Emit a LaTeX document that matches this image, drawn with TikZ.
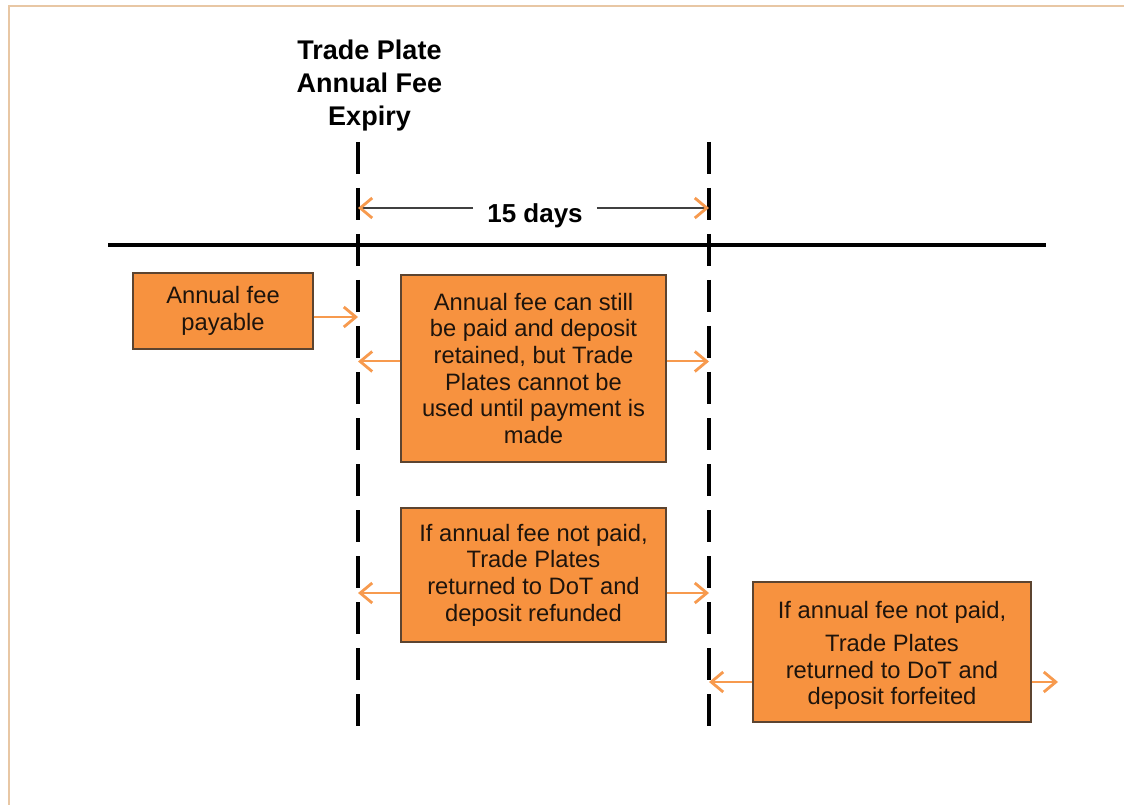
\documentclass[tikz,border=0pt]{standalone}
\usepackage{fontspec}
\setmainfont{Liberation Sans}
\usetikzlibrary{arrows.meta}
\definecolor{boxfill}{HTML}{F7923F}
\definecolor{boxedge}{HTML}{5C4430}
\definecolor{arrorange}{HTML}{F79A4E}
\definecolor{frametan}{HTML}{E8C7A4}
\definecolor{txt}{HTML}{1E140C}
\begin{document}
\begin{tikzpicture}[x=0.75pt,y=-0.75pt,
  fbox/.style={draw=boxedge, line width=1.1pt, fill=boxfill, text=txt, align=center,
    font=\fontsize{17.8}{20}\selectfont, inner sep=0pt},
  oarr/.style={draw=arrorange, line width=1.5pt,
    -{Straight Barb[length=9pt,width=15pt,line width=2.1pt]}},
  darr/.style={draw=black!75, line width=1pt,
    -{Straight Barb[length=9pt,width=15pt,line width=2.1pt,color=arrorange]}},
  vdash/.style={line width=2.3pt, dash pattern=on 24pt off 10.5pt},
]
\useasboundingbox (0,0) rectangle (1124,805);
\fill[white] (0,0) rectangle (1124,805);
\draw[frametan, line width=1.8pt] (9,805) -- (9,6) -- (1124,6);

% time line and markers
\coordinate (hl) at (108,245);
\coordinate (hr) at (1046,245);
\coordinate (L1t) at (358,142);
\coordinate (L1b) at (358,728);
\coordinate (L2t) at (709,142);
\coordinate (L2b) at (709,728);
\draw[line width=2.3pt] (hl) -- (hr);
\draw[vdash] (L1t) -- (L1b);
\draw[vdash] (L2t) -- (L2b);

% title
\node[anchor=north, inner sep=0pt, align=center,
  font=\fontsize{20.25}{24.75}\selectfont\bfseries] (title) at (369.5,39.5)
  {Trade Plate\\Annual Fee\\Expiry};

% 15 days
\node[font=\fontsize{19.5}{22}\selectfont\bfseries, inner sep=0pt] (days) at (535,216) {15 days};
\coordinate (dl) at ([xshift=-10.5pt,yshift=6pt]days.west);
\coordinate (dr) at ([xshift=10.5pt,yshift=6pt]days.east);
\draw[darr] (dl) -- (dl -| L1t);
\draw[darr] (dr) -- (dr -| L2t);

% boxes
\node[fbox, minimum width=135pt, minimum height=57pt] (b1) at (223,311)
  {Annual fee\\payable};
\node[fbox, minimum width=198.75pt, minimum height=140.25pt] (b2) at (533.5,368.5)
  {Annual fee can still\\be paid and deposit\\retained, but Trade\\Plates cannot be\\used until payment is\\made};
\node[fbox, minimum width=198.75pt, minimum height=100.5pt] (b3) at (533.5,575)
  {If annual fee not paid,\\Trade Plates\\returned to DoT and\\deposit refunded};
\node[fbox, minimum width=208.5pt, minimum height=105pt] (b4) at (892,652)
  {};
\node[align=center, text=txt, font=\fontsize{17.8}{20}\selectfont, inner sep=0pt]
  (b4t) at ([yshift=-2.5pt]b4.center)
  {If annual fee not paid,\\[5pt]Trade Plates\\returned to DoT and\\deposit forfeited};

% arrows
\coordinate (a1) at ([yshift=-4.5pt]b1.east);
\draw[oarr] (a1) -- (a1 -| L1t);
\coordinate (a2l) at ([yshift=5.25pt]b2.west);
\coordinate (a2r) at ([yshift=5.25pt]b2.east);
\draw[oarr] (a2l) -- (a2l -| L1t);
\draw[oarr] (a2r) -- (a2r -| L2t);
\coordinate (a3l) at ([yshift=-13.5pt]b3.west);
\coordinate (a3r) at ([yshift=-13.5pt]b3.east);
\draw[oarr] (a3l) -- (a3l -| L1t);
\draw[oarr] (a3r) -- (a3r -| L2t);
\coordinate (a4l) at ([yshift=-22.5pt]b4.west);
\coordinate (a4r) at ([yshift=-22.5pt]b4.east);
\coordinate (ext) at (1058,682);
\draw[oarr] (a4l) -- (a4l -| L2t);
\draw[oarr] (a4r) -- (a4r -| ext);
\end{tikzpicture}
\end{document}
